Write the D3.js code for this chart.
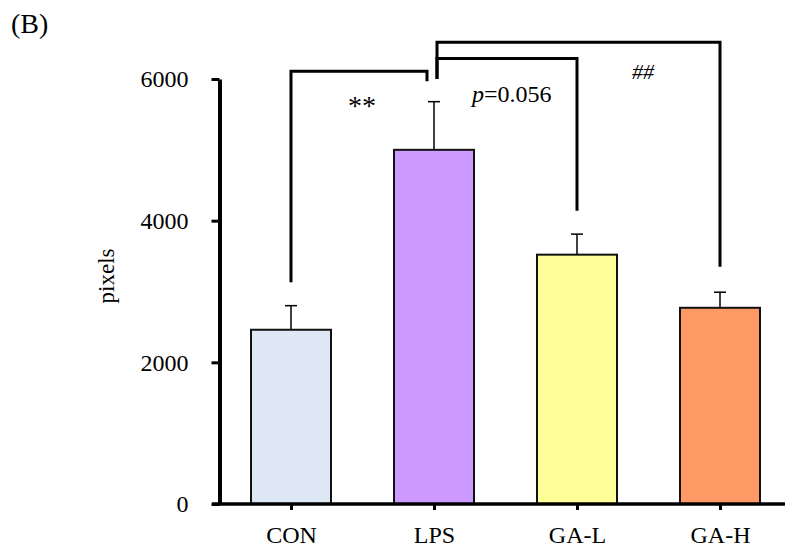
<!DOCTYPE html>
<html>
<head>
<meta charset="utf-8">
<script src="https://cdn.jsdelivr.net/npm/d3@7"></script>
<style>
  body { margin: 0; background: #fff; }
  svg { display: block; font-family: "Liberation Serif", "Times New Roman", serif; }
</style>
</head>
<body>
<svg width="785" height="548"></svg>
<script>
// data
var categories = ["CON", "LPS", "GA-L", "GA-H"];
var means = [2460, 5000, 3520, 2770];
var errors = [340, 680, 290, 220];
var colors = ["#dde8f4", "#cc99ff", "#ffff99", "#ff9966"];
var yTicks = [0, 2000, 4000, 6000];

// significance brackets (values in y units)
var brackets = [
  { a: "CON", b: "LPS", ya: 3130, top: 6110, yb: 5970, dxa: 0, dxb: -7 },
  { a: "LPS", b: "GA-L", ya: 6000, top: 6290, yb: 4140, dxa: 3, dxb: 0 },
  { a: "LPS", b: "GA-H", ya: 6000, top: 6520, yb: 3350, dxa: 3, dxb: 0 }
];

var svg = d3.select("svg");

var x = d3.scalePoint().domain(categories).range([219.5, 791.5]).padding(0.5),
  y = d3.scaleLinear().domain([0, 6000]).range([504, 79]);

var barWidth = 80;

var data = categories.map((c, i) => ({ cat: c, mean: means[i], err: errors[i], color: colors[i] }));

// y axis
var yAxis = svg.append("g")
  .attr("transform", "translate(219.5,0)")
  .call(d3.axisLeft(y).tickValues(yTicks).tickFormat(d3.format("d")).tickSize(8).tickSizeOuter(0).tickPadding(23));
yAxis.select(".domain").attr("stroke-width", 4);
yAxis.selectAll(".tick line").attr("stroke-width", 3);
yAxis.selectAll("text").style("font-size", "24px").style("font-family", "Liberation Serif").attr("fill", "#000");

// error bars
var eb = svg.append("g").selectAll("g").data(data).enter().append("g");
eb.append("line")
  .attr("x1", d => x(d.cat)).attr("x2", d => x(d.cat))
  .attr("y1", d => y(d.mean)).attr("y2", d => y(d.mean + d.err))
  .attr("stroke", "#000").attr("stroke-width", 1.5);
eb.append("line")
  .attr("x1", d => x(d.cat) - 6).attr("x2", d => x(d.cat) + 6)
  .attr("y1", d => y(d.mean + d.err)).attr("y2", d => y(d.mean + d.err))
  .attr("stroke", "#000").attr("stroke-width", 1.5);

// bars
svg.append("g").selectAll("rect").data(data).enter().append("rect")
  .attr("x", d => x(d.cat) - barWidth / 2)
  .attr("y", d => y(d.mean))
  .attr("width", barWidth)
  .attr("height", d => y(0) - y(d.mean))
  .attr("fill", d => d.color)
  .attr("stroke", "#111")
  .attr("stroke-width", 2);

// x axis
var xAxis = svg.append("g")
  .attr("transform", "translate(0,504)")
  .call(d3.axisBottom(x).tickSize(6).tickSizeOuter(0).tickPadding(16));
xAxis.select(".domain").attr("d", "M212,0H785").attr("stroke-width", 3.5);
xAxis.selectAll(".tick line").attr("stroke-width", 3);
xAxis.selectAll("text").style("font-size", "24px").style("font-family", "Liberation Serif").attr("fill", "#000");

// brackets
svg.append("g").selectAll("path").data(brackets).enter().append("path")
  .attr("d", d => {
    var xa = x(d.a) + d.dxa, xb = x(d.b) + d.dxb;
    return `M${xa},${y(d.ya)}V${y(d.top)}H${xb}V${y(d.yb)}`;
  })
  .attr("fill", "none").attr("stroke", "#000").attr("stroke-width", 3);

// annotations
svg.append("text").attr("x", 362).attr("y", 115).attr("text-anchor", "middle")
  .style("font-size", "28px").text("**");
var pt = svg.append("text").attr("x", 472).attr("y", 102).style("font-size", "24px");
pt.append("tspan").style("font-style", "italic").text("p");
pt.append("tspan").text("=0.056");
svg.append("text").attr("x", 643).attr("y", 79).attr("text-anchor", "middle")
  .style("font-size", "22px").style("font-style", "italic").text("##");

// y title
svg.append("text").attr("transform", "translate(114,276) rotate(-90)")
  .attr("text-anchor", "middle").style("font-size", "23px").text("pixels");

// panel label
svg.append("text").attr("x", 11).attr("y", 33).style("font-size", "28px").text("(B)");
</script>
</body>
</html>
